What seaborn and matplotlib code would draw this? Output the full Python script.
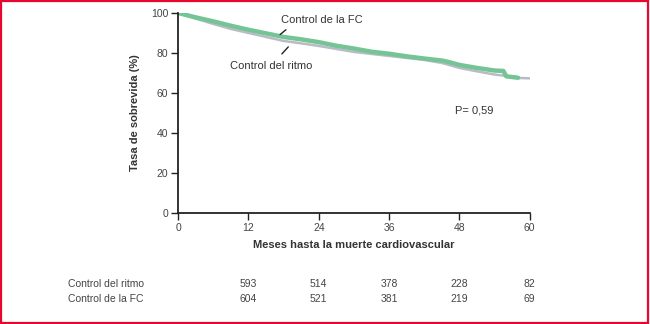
import matplotlib.pyplot as plt
import matplotlib.patches as mpatches
import matplotlib.transforms as mtransforms
import seaborn as sns
import pandas as pd

# Kaplan-Meier curves (months, survival %)
meses = [0, 3, 6, 9, 12, 15, 18, 21, 24, 27, 30, 33, 36, 39, 42, 45, 48, 51, 54, 56, 57, 58, 60]
ritmo = [100, 97.2, 94.5, 92.0, 90.0, 88.0, 86.0, 84.8, 83.5, 82.0, 80.5, 79.5, 78.5,
         77.5, 76.5, 75.0, 72.5, 70.8, 69.2, 68.5, 68.0, 67.5, 67.3]
meses_fc = [0, 3, 6, 9, 12, 15, 18, 19, 21, 24, 27, 30, 33, 36, 39, 42, 45, 46, 48, 51,
            54, 55.5, 56, 58]
fc = [100, 97.8, 95.8, 93.6, 91.6, 89.8, 88.0, 87.6, 86.8, 85.4, 83.6, 82.2, 80.6, 79.6,
      78.3, 77.2, 76.2, 75.6, 74.0, 72.5, 71.2, 71.0, 68.3, 67.6]

# numbers at risk
riesgo_meses = [12, 24, 36, 48, 60]
riesgo_ritmo = [593, 514, 378, 228, 82]
riesgo_fc = [604, 521, 381, 219, 69]

df_ritmo = pd.DataFrame({'mes': meses, 'sobrevida': ritmo})
df_fc = pd.DataFrame({'mes': meses_fc, 'sobrevida': fc})

sns.set_style('white')
plt.rcParams['font.family'] = ['Liberation Sans', 'DejaVu Sans']

fig = plt.figure(figsize=(6.5, 3.24), dpi=100)
ax = fig.add_axes([0.274, 0.343, 0.541, 0.617])

sns.lineplot(data=df_ritmo, x='mes', y='sobrevida', ax=ax, color='#b9bcc6',
             linewidth=1.8)
sns.lineplot(data=df_fc, x='mes', y='sobrevida', ax=ax, color='#74c495',
             linewidth=3.2)

ax.set_xlim(0, 60)
ax.set_ylim(0, 100)
ax.set_xticks([0, 12, 24, 36, 48, 60])
ax.set_yticks([0, 20, 40, 60, 80, 100])
for s in ['top', 'right']:
    ax.spines[s].set_visible(False)
for s in ['left', 'bottom']:
    ax.spines[s].set_color('#222222')
    ax.spines[s].set_linewidth(1.3)
ax.tick_params(axis='both', direction='out', length=5, width=1.0, color='#222222',
               labelsize=7.5, labelcolor='#444444', left=True, bottom=True, pad=2)
ax.set_xlabel('Meses hasta la muerte cardiovascular', fontsize=8, fontweight='bold',
              color='#333333', labelpad=5)
ax.set_ylabel('Tasa de sobrevida (%)', fontsize=8, fontweight='bold',
              color='#333333', labelpad=8)

# curve labels with leader lines
ax.text(17.6, 96.5, 'Control de la FC', fontsize=8, color='#333333', ha='left', va='center')
ax.plot([17.4, 18.4], [89.2, 91.6], color='#222222', lw=1.0)
ax.text(8.8, 73.5, 'Control del ritmo', fontsize=8, color='#333333', ha='left', va='center')
ax.plot([17.7, 18.8], [79.5, 83.0], color='#222222', lw=1.0)
ax.text(50.5, 51, 'P= 0,59', fontsize=8, color='#333333', ha='center', va='center')

# numbers-at-risk table
trans = mtransforms.blended_transform_factory(ax.transData, fig.transFigure)
y1 = 1 - 284 / 324
y2 = 1 - 299 / 324
fig.text(68 / 650, y1, 'Control del ritmo', fontsize=7.5, color='#444444', va='center')
fig.text(68 / 650, y2, 'Control de la FC', fontsize=7.5, color='#444444', va='center')
for m, a, b in zip(riesgo_meses, riesgo_ritmo, riesgo_fc):
    ax.text(m, y1, str(a), transform=trans, fontsize=7.5, color='#444444',
            ha='center', va='center', clip_on=False)
    ax.text(m, y2, str(b), transform=trans, fontsize=7.5, color='#444444',
            ha='center', va='center', clip_on=False)

# red frame
fig.patches.append(mpatches.Rectangle((0.002, 0.004), 0.995, 0.992, transform=fig.transFigure,
                                      fill=False, edgecolor='#e8062c', linewidth=1.6))

fig.savefig('out.png', dpi=100)
plt.close(fig)
